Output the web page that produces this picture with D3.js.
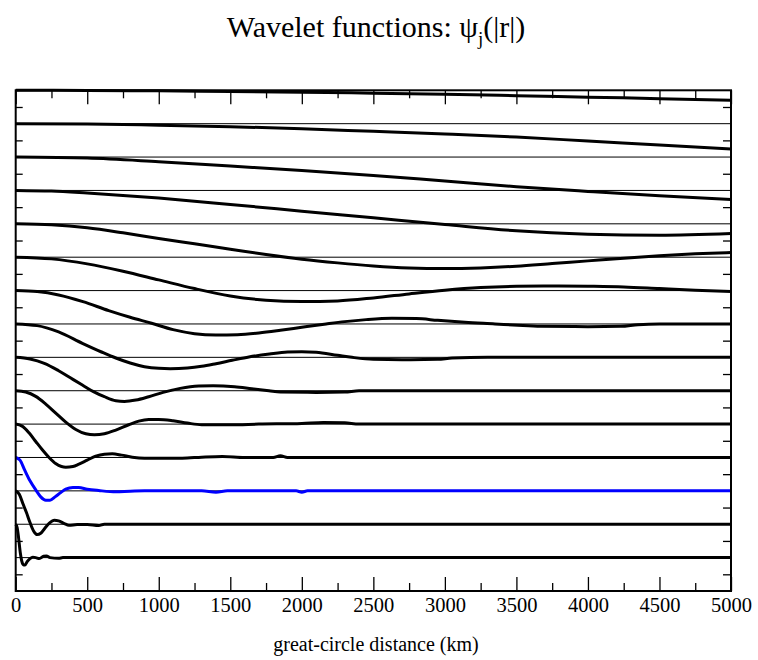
<!DOCTYPE html>
<html><head><meta charset="utf-8">
<script src="https://cdn.jsdelivr.net/npm/d3@7"></script>
<style>body{margin:0;background:#fff}svg{display:block}</style>
</head><body>
<svg id="chart" width="758" height="660"></svg>
<script>
// ---- data (distance km, normalised wavelet value) ----
const xMajorTicks = [0,500,1000,1500,2000,2500,3000,3500,4000,4500,5000];
const xMinorTicks = [250,750,1250,1750,2250,2750,3250,3750,4250,4750];
const xLabel = "great-circle distance (km)";

const psi0 = [[0,1],[500,0.995],[1000,0.985],[1500,0.965],[2000,0.945],[2500,0.915],[3000,0.88],[3500,0.84],[4000,0.795],[4500,0.75],[5000,0.705]];
const psi1 = [[0,1],[500,0.99],[1000,0.955],[1500,0.91],[2000,0.85],[2500,0.77],[3000,0.69],[3500,0.6],[4000,0.48],[4500,0.36],[5000,0.24]];
const psi2 = [[0,1],[500,0.97],[1000,0.86],[1500,0.73],[2000,0.6],[2500,0.45],[3000,0.28],[3500,0.11],[4000,-0.03],[4500,-0.16],[5000,-0.27]];
const psi3 = [[0,1],[250,0.98],[500,0.92],[750,0.85],[1000,0.77],[1500,0.58],[2000,0.38],[2500,0.18],[3000,-0.02],[3500,-0.21],[4000,-0.31],[4500,-0.34],[5000,-0.29]];
const psi4 = [[0,1],[250,0.97],[500,0.88],[750,0.73],[1000,0.56],[1250,0.4],[1500,0.24],[1750,0.08],[2000,-0.06],[2250,-0.17],[2500,-0.26],[2750,-0.32],[3000,-0.34],[3250,-0.32],[3500,-0.27],[3750,-0.19],[4000,-0.11],[4250,-0.03],[4500,0.04],[4750,0.1],[5000,0.14]];
const psi5 = [[0,1],[250,0.95],[500,0.8],[750,0.58],[1000,0.32],[1250,0.06],[1500,-0.16],[1750,-0.29],[2000,-0.33],[2250,-0.31],[2500,-0.22],[2750,-0.1],[3000,0.01],[3250,0.09],[3500,0.13],[3750,0.14],[4000,0.13],[4250,0.11],[4500,0.06],[4750,0.01],[5000,-0.03]];
const psi6 = [[0,1],[150,0.97],[300,0.87],[470,0.67],[650,0.4],[800,0.2],[950,0.02],[1100,-0.17],[1250,-0.29],[1400,-0.33],[1550,-0.32],[1700,-0.27],[1850,-0.19],[2000,-0.1],[2170,0],[2300,0.07],[2450,0.13],[2630,0.17],[2800,0.16],[2950,0.11],[3140,0.05],[3350,0],[3510,-0.04],[3670,-0.07],[4000,-0.08],[4230,-0.07],[4350,-0.02],[4500,0],[5000,0]];
const psi7 = [[0,1],[150,0.95],[300,0.76],[466,0.42],[600,0.16],[700,-0.02],[800,-0.17],[900,-0.28],[1000,-0.33],[1080,-0.34],[1200,-0.32],[1300,-0.27],[1400,-0.19],[1513,-0.09],[1630,0.01],[1774,0.1],[1900,0.16],[2000,0.17],[2100,0.15],[2250,0.06],[2350,0],[2500,-0.06],[2700,-0.07],[2950,-0.06],[3050,-0.02],[3300,0],[5000,0]];
const psi8 = [[0,1],[100,0.95],[200,0.82],[300,0.6],[400,0.34],[466,0.17],[540,-0.02],[620,-0.18],[700,-0.3],[760,-0.32],[840,-0.28],[930,-0.18],[1030,-0.05],[1150,0.07],[1280,0.14],[1380,0.15],[1530,0.12],[1650,0.06],[1770,0],[1850,-0.04],[2100,-0.05],[2300,-0.04],[2400,0],[5000,0]];
const psi9 = [[0,1],[70,0.96],[140,0.83],[210,0.6],[280,0.33],[350,0.06],[420,-0.16],[490,-0.29],[550,-0.32],[620,-0.29],[700,-0.18],[790,-0.02],[860,0.09],[930,0.14],[1000,0.14],[1100,0.1],[1200,0.03],[1300,-0.02],[1500,-0.02],[1700,0],[2000,0.02],[2150,0.05],[2300,0.04],[2400,0],[5000,0]];
const psi10 = [[0,1],[45,0.94],[93,0.74],[140,0.48],[186,0.23],[233,0],[279,-0.18],[320,-0.27],[350,-0.29],[400,-0.27],[442,-0.2],[500,-0.08],[559,0.04],[620,0.1],[675,0.11],[740,0.07],[815,0.01],[900,-0.02],[1164,-0.02],[1300,0.01],[1445,0.03],[1600,0],[1800,0],[1850,0.05],[1900,0],[5000,0]];
const psi11 = [[0,1],[30,0.92],[63,0.62],[100,0.3],[140,0.03],[175,-0.18],[210,-0.28],[240,-0.28],[275,-0.18],[315,-0.05],[350,0.05],[400,0.1],[440,0.1],[500,0.05],[580,0.01],[700,-0.03],[800,-0.01],[900,0],[1300,0],[1400,-0.04],[1480,0],[1960,0],[2000,-0.04],[2040,0],[5000,0]];
const psi12 = [[0,1],[25,0.9],[50,0.62],[75,0.35],[100,0.05],[125,-0.2],[150,-0.31],[175,-0.27],[200,-0.14],[235,0.03],[270,0.12],[300,0.1],[340,0.02],[372,-0.03],[430,-0.01],[500,-0.01],[580,-0.04],[620,0],[5000,0]];
const psi13 = [[0,1],[10,0.9],[20,0.6],[32,0.15],[42,-0.1],[55,-0.22],[65,-0.22],[80,-0.12],[100,-0.03],[120,0.01],[140,0],[165,-0.03],[195,0.04],[215,0.05],[240,0],[300,-0.02],[330,0],[5000,0]];

const curves = [psi0,psi1,psi2,psi3,psi4,psi5,psi6,psi7,psi8,psi9,psi10,psi11,psi12,psi13];
const highlighted = 11;

// ---- drawing ----
const svg = d3.select('#chart');
const font = '"Liberation Serif","Times New Roman",serif';
const x = d3.scaleLinear().domain([0,5000]).range([15.7,731]);
const rows = curves.length + 1;
const y = d3.scaleLinear().domain([0,rows]).range([90.3,591]);

// baselines (zero level of each curve)
svg.append('g').selectAll('line').data(d3.range(1,rows)).join('line')
  .attr('x1',x(0)).attr('x2',x(5000))
  .attr('y1',d=>y(d)).attr('y2',d=>y(d))
  .attr('stroke','#000').attr('stroke-width',1);

function styleAxis(g,w){ g.select('.domain').remove(); g.selectAll('.tick line').attr('stroke','#000').attr('stroke-width',w); }

// bottom axis
svg.append('g').attr('transform',`translate(0,${y(rows)})`)
  .call(d3.axisBottom(x).tickValues(xMajorTicks).tickSizeInner(-14).tickSizeOuter(0).tickPadding(6.5).tickFormat(d3.format('d')))
  .call(g=>styleAxis(g,1.3))
  .call(g=>g.selectAll('text').attr('font-family',font).attr('font-size','20.5px').attr('fill','#000'));
svg.append('g').attr('transform',`translate(0,${y(rows)})`)
  .call(d3.axisBottom(x).tickValues(xMinorTicks).tickSizeInner(-8).tickSizeOuter(0).tickFormat(''))
  .call(g=>styleAxis(g,1.3));
// top axis
svg.append('g').attr('transform',`translate(0,${y(0)})`)
  .call(d3.axisTop(x).tickValues(xMajorTicks).tickSizeInner(-14).tickSizeOuter(0).tickFormat(''))
  .call(g=>styleAxis(g,1.3));
svg.append('g').attr('transform',`translate(0,${y(0)})`)
  .call(d3.axisTop(x).tickValues(xMinorTicks).tickSizeInner(-8).tickSizeOuter(0).tickFormat(''))
  .call(g=>styleAxis(g,1.3));
// left / right minor ticks at half rows
const halfRows = d3.range(0,rows).map(i=>i+0.5);
svg.append('g').attr('transform',`translate(${x(0)},0)`)
  .call(d3.axisLeft(y).tickValues(halfRows).tickSizeInner(-7).tickSizeOuter(0).tickFormat(''))
  .call(g=>styleAxis(g,1.3));
svg.append('g').attr('transform',`translate(${x(5000)},0)`)
  .call(d3.axisRight(y).tickValues(halfRows).tickSizeInner(-8).tickSizeOuter(0).tickFormat(''))
  .call(g=>styleAxis(g,1.3));

// curves
curves.forEach((data,k)=>{
  const line = d3.line().x(d=>x(d[0])).y(d=>y(k+1-d[1])).curve(d3.curveMonotoneX);
  svg.append('path').datum(data)
    .attr('d',line)
    .attr('fill','none')
    .attr('stroke', k===highlighted ? '#0000ff' : '#000')
    .attr('stroke-width',3)
    .attr('stroke-linejoin','round');
});

// frame
svg.append('rect').attr('x',x(0)).attr('y',y(0)).attr('width',x(5000)-x(0)).attr('height',y(rows)-y(0))
  .attr('fill','none').attr('stroke','#000').attr('stroke-width',2);

// title
const title = svg.append('text').attr('x',376).attr('y',37).attr('text-anchor','middle')
  .attr('font-family',font).attr('font-size','30px').attr('fill','#000');
title.append('tspan').text('Wavelet functions: ψ');
title.append('tspan').attr('font-size','19px').attr('dy',8).text('j');
title.append('tspan').attr('dy',-8).text('(|r|)');

// x label
svg.append('text').attr('x',376).attr('y',651).attr('text-anchor','middle')
  .attr('font-family',font).attr('font-size','20px').attr('fill','#000').text(xLabel);
</script>
</body></html>
